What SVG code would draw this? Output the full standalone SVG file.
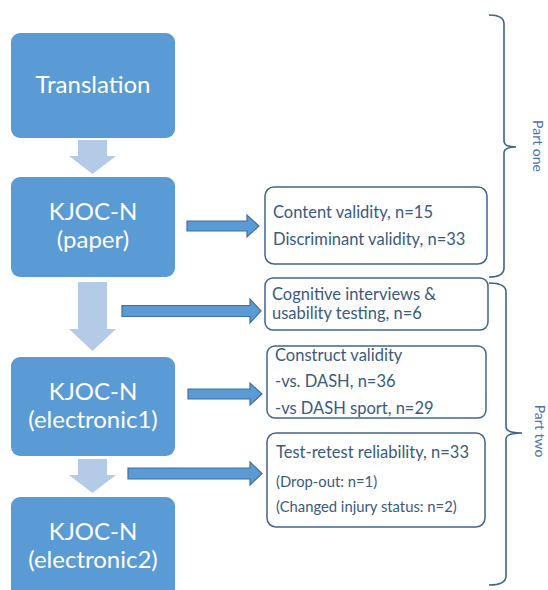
<svg xmlns="http://www.w3.org/2000/svg" width="548" height="590" viewBox="0 0 548 590">
<style>
.blue{fill:#5B9BD5;}
.btxt{font-family:Lato,"Open Sans",sans-serif;font-size:24px;fill:#FFFFFF;text-anchor:middle;}
.down{fill:#B4CBE8;}
.right{fill:#5B9BD5;stroke:#41719C;stroke-width:1.2;}
.tbox{fill:#FFFFFF;stroke:#3F6590;stroke-width:1.5;}
.ttxt{font-family:Lato,"Open Sans",sans-serif;font-size:16.5px;fill:#3A5A80;}
.small{font-size:14.8px;}
.brace{fill:none;stroke:#3D6594;stroke-width:1.6;}
.part{font-family:Lato,"Open Sans",sans-serif;font-size:14px;fill:#4A72A6;text-anchor:middle;}
</style>
<rect width="548" height="590" fill="#FFFFFF"/>
<g id="translation">
<rect class="blue" x="11" y="33" width="164" height="105" rx="9"/>
<text class="btxt" x="93" y="93">Translation</text>
</g>
<g id="paper">
<rect class="blue" x="11" y="177" width="164" height="100" rx="9"/>
<text class="btxt" x="93" y="220">KJOC-N</text>
<text class="btxt" x="93" y="248">(paper)</text>
</g>
<g id="electronic1">
<rect class="blue" x="11" y="357" width="164" height="99" rx="9"/>
<text class="btxt" x="93" y="400">KJOC-N</text>
<text class="btxt" x="93" y="428">(electronic1)</text>
</g>
<g id="electronic2">
<rect class="blue" x="11" y="497" width="164" height="110" rx="9"/>
<text class="btxt" x="93" y="540">KJOC-N</text>
<text class="btxt" x="93" y="568">(electronic2)</text>
</g>
<g id="box-validity">
<rect class="tbox" x="265" y="187" width="222" height="77" rx="9"/>
<text class="ttxt" x="273" y="218">Content validity, n=15</text>
<text class="ttxt" x="273" y="245">Discriminant validity, n=33</text>
</g>
<g id="box-cognitive">
<rect class="tbox" x="265" y="278" width="223" height="52" rx="8"/>
<text class="ttxt" x="272" y="300">Cognitive interviews &amp;</text>
<text class="ttxt" x="272" y="319">usability testing, n=6</text>
</g>
<g id="box-construct">
<rect class="tbox" x="267" y="346" width="219" height="72" rx="8"/>
<text class="ttxt" x="275" y="361">Construct validity</text>
<text class="ttxt" x="275" y="387">-vs. DASH, n=36</text>
<text class="ttxt" x="275" y="414">-vs DASH sport, n=29</text>
</g>
<g id="box-retest">
<rect class="tbox" x="267" y="433" width="218" height="94" rx="9"/>
<text class="ttxt" x="276" y="458">Test-retest reliability, n=33</text>
<text class="ttxt small" x="276" y="487">(Drop-out: n=1)</text>
<text class="ttxt small" x="276" y="512">(Changed injury status: n=2)</text>
</g>
<g id="part-one">
<path class="brace" d="M489,15 Q504,15 504,24 V141 Q504,147 516,147 Q504,147 504,153 V268 Q504,277 489,277"/>
<text class="part" transform="translate(533,146) rotate(90)">Part one</text>
</g>
<g id="part-two">
<path class="brace" d="M489,283 Q506,283 506,292 V427 Q506,433 522,433 Q506,433 506,439 V576 Q506,585 489,585"/>
<text class="part" transform="translate(535,431) rotate(90)">Part two</text>
</g>
<g id="connectors">
<path class="down" d="M78,140 H107 V156 H116 L92.5,174 L69,156 H78 Z"/>
<path class="down" d="M78,282 H107 V329 H116 L92.5,351 L69,329 H78 Z"/>
<path class="down" d="M78,459 H107 V475 H116 L92.5,493 L69,475 H78 Z"/>
<path class="right" d="M187,221 H247 V215 L259,226 L247,237 V231 H187 Z"/>
<path class="right" d="M122,305.5 H250 V299 L261,311 L250,323 V316.5 H122 Z"/>
<path class="right" d="M188,389 H250 V383 L262,394 L250,405 V399 H188 Z"/>
<path class="right" d="M128,468 H250 V462 L262,473.5 L250,485 V479 H128 Z"/>
</g>
</svg>
